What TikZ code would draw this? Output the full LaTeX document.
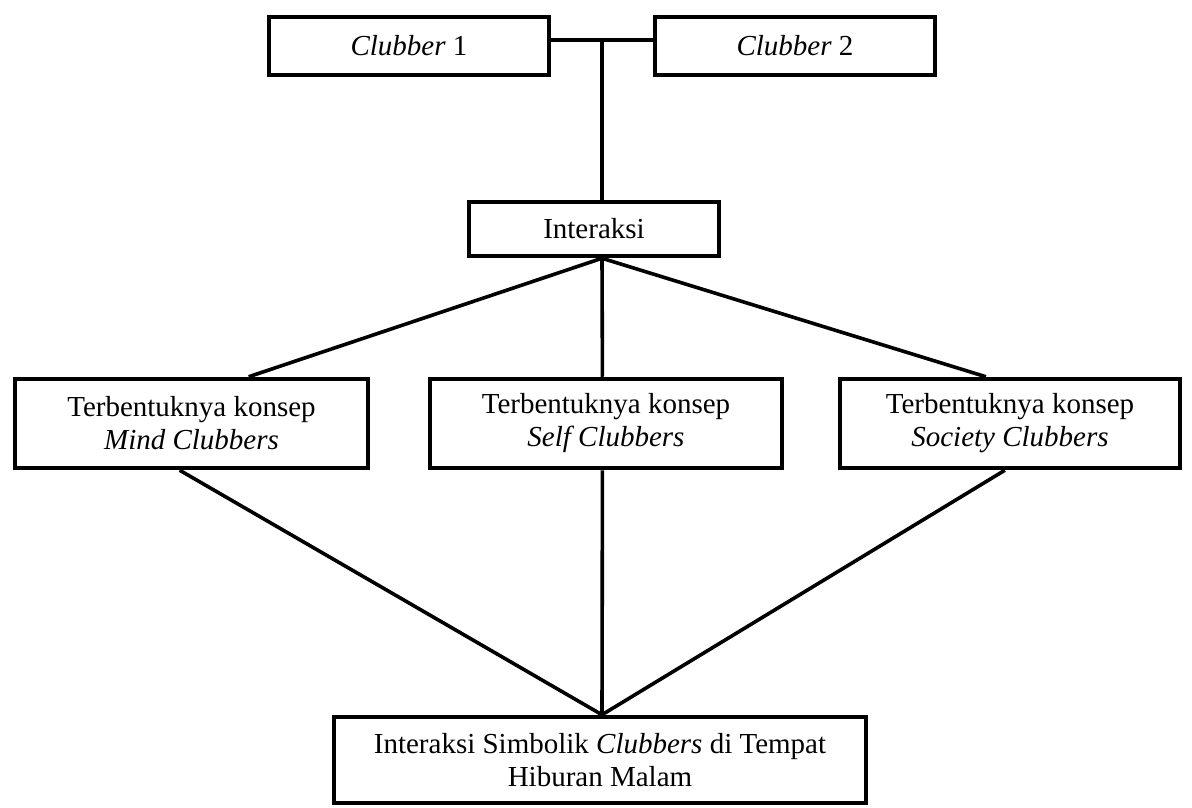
\documentclass[tikz,border=0pt]{standalone}
\usepackage{fontspec}
\setmainfont{Liberation Serif}
\usetikzlibrary{calc}

\begin{document}
\begin{tikzpicture}[x=1pt, y=-1pt, line width=3.6pt,
  font=\fontsize{29}{33}\selectfont,
  box/.style={draw, line width=4.5pt, align=center, inner sep=0pt},
  pelaku/.style={box, minimum width=280, minimum height=58},
  konsep/.style={box, minimum height=89}]
\useasboundingbox (0,0) rectangle (1192,808);
% TOP: two clubbers
\node[pelaku] (c1) at (409,46) {\textit{Clubber} 1};
\node[pelaku] (c2) at (795,46) {\textit{Clubber} 2};
\node[box, minimum width=250, minimum height=54] (inter) at (594,229) {Interaksi};
\coordinate (j) at (602,40);
\draw (c1.east |- j) -- (c2.west |- j);
\draw (j) -- (j |- inter.north);
% MIDDLE: concepts
\node[konsep, minimum width=353] (mind) at (191.5,423.5) {Terbentuknya konsep\\\textit{Mind Clubbers}};
\node[konsep, minimum width=352] (self) at (606,423.5) {Terbentuknya konsep\\\textit{Self Clubbers}};
\node[konsep, minimum width=340] (society) at (1010,423.5) {Terbentuknya konsep\\\textit{Society Clubbers}};
\foreach \n/\p in {mind/0.66, self/0.49, society/0.43}
  {\draw (j |- inter.south) -- ($(\n.north west)!\p!(\n.north east)$);}
% BOTTOM: result
\node[box, minimum width=532, minimum height=86] (hasil) at (600,760) {Interaksi Simbolik \textit{Clubbers} di Tempat\\Hiburan Malam};
\foreach \n/\p in {mind/0.467, self/0.49, society/0.485}
  {\draw ($(\n.south west)!\p!(\n.south east)$) -- (j |- hasil.north);}
\end{tikzpicture}
\end{document}
